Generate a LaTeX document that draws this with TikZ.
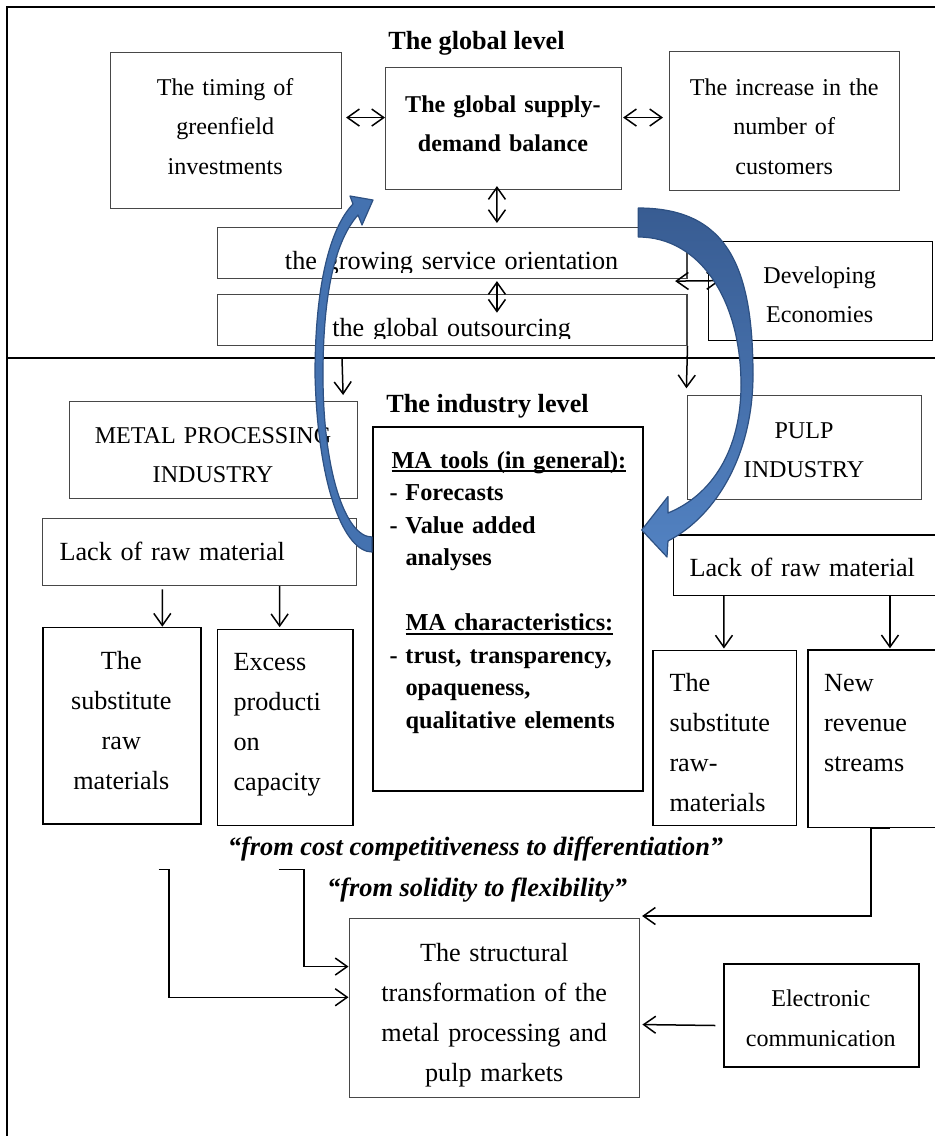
\documentclass[tikz,border=0pt]{standalone}
\usepackage{fontspec}
\setmainfont{Liberation Serif}
\usetikzlibrary{arrows.meta}
\definecolor{bluefill}{RGB}{68,114,176}
\definecolor{blueedge}{RGB}{45,80,130}
\definecolor{bluetop}{RGB}{56,92,146}
\definecolor{bluebottom}{RGB}{82,130,194}
% underline with a fixed depth and weight
\newcommand{\ulined}[1]{\leavevmode\setbox0=\hbox{#1}\rlap{\rule[-3.8pt]{\wd0}{1.8pt}}\box0}
\begin{document}
\begin{tikzpicture}[x=1pt,y=-1pt,
  >={Straight Barb[length=12pt,width=17pt]},
  frame/.style={draw=black, line width=1.5pt},
  thinbox/.style={draw=black!72, line width=1.1pt, inner sep=0pt, anchor=north west},
  blackbox/.style={draw=black, line width=1.3pt, inner sep=0pt, anchor=north west},
  heavybox/.style={draw=black, line width=2pt, inner sep=0pt, anchor=north west},
  sz/.style 2 args={minimum width=#1pt, minimum height=#2pt},
  small/.style={font={\fontsize{24.1}{39.5}\selectfont}},
  smallbf/.style={font={\fontsize{24.1}{39.5}\selectfont\bfseries}},
  large/.style={font={\fontsize{26.2}{40}\selectfont}},
  largebf/.style={font={\fontsize{26.2}{40}\selectfont\bfseries}},
  largebi/.style={font={\fontsize{26.4}{40}\selectfont\bfseries\itshape}},
  listbf/.style={font={\fontsize{24.3}{32.5}\selectfont\bfseries}},
  ctext/.style={inner sep=0pt, anchor=base, text width=#1pt, align=center},
  ltext/.style={inner sep=0pt, anchor=base west, text width=#1pt, align=left},
  label/.style={inner sep=0pt, anchor=base},
  conn/.style={draw=black, line width=1.5pt},
  curvearrow/.style={draw=blueedge, line width=1.2pt, line join=round}
]
\useasboundingbox (0,0) rectangle (935,1136);

% outer frame and level divider
\draw[frame] (7,1145) -- (7,7) -- (945,7);
\draw[frame] (7,358) -- (945,358);

% ---------- global level ----------
\node[label, largebf] (tglobal) at (476.5,49) {The global level};

\node[thinbox, sz={231.5}{156.6}] (A) at (109.5,51.7) {};
\node[thinbox, sz={235.5}{122}] (B) at (385,67.3) {};
\node[thinbox, sz={230.3}{139}] (C) at (669,51) {};
\node[thinbox, sz={469.6}{51}] (D) at (216.8,227.3) {};
\node[thinbox, sz={469.6}{50.7}] (E) at (216.8,294.3) {};
\node[blackbox, sz={224}{99}] (F) at (707.7,241) {};

\node[ctext=300, small] (At) at (225.2,95) {The timing of\\greenfield\\investments};
\node[ctext=300, smallbf] (Bt) at (503,112) {The global supply-\\demand balance};
\node[ctext=300, small] (Ct) at (784.2,95) {The increase in the\\number of\\customers};
\begin{scope}
  \clip (D.north west) rectangle ([yshift=7pt]D.south east);
  \node[ctext=440, large] (Dt) at (451.6,269.5) {the growing service orientation};
\end{scope}
\begin{scope}
  \clip (E.north west) rectangle ([yshift=7.5pt]E.south east);
  \node[ctext=440, large] (Et) at (451.6,336) {the global outsourcing};
\end{scope}
\node[ctext=200, small] (Ft) at (819.7,283.3) {Developing\\Economies};

% ---------- industry level ----------
\node[label, largebf] (tindustry) at (487.5,412) {The industry level};

\node[thinbox, sz={287.4}{97.3}] (G) at (69.3,401) {};
\node[thinbox, sz={313.7}{67.3}] (H) at (42.3,517.7) {};
\node[blackbox, sz={158}{196.6}] (I) at (42.3,626.7) {};
\node[blackbox, sz={135.6}{196.3}] (J) at (216.7,628.7) {};
\node[heavybox, sz={270.6}{364}] (K) at (371.7,426) {};
\node[thinbox, sz={234}{104}] (L) at (686.7,395) {};
\node[blackbox, sz={272.3}{60.4}] (M) at (672.7,534.3) {};
\node[blackbox, sz={143.4}{175}] (N) at (652.3,650) {};
\node[blackbox, sz={137.7}{177.4}] (O) at (807.3,649.3) {};
\node[thinbox, sz={290.3}{179}] (P) at (349,918) {};
\node[heavybox, sz={195}{102.4}] (Q) at (723.3,963.3) {};

\node[ctext=280, small] (Gt) at (213,443.3) {METAL PROCESSING\\INDUSTRY};
\node[ltext=290, large] (Ht) at (59.3,560) {Lack of raw material};
\node[ctext=150, large] (It) at (121.3,669.3) {The\\substitute\\raw\\materials};
\node[ltext=130, large] (Jt) at (233.3,670.7) {Excess\\producti\\on\\capacity};
\node[ltext=250, listbf] (Kt) at (389.3,468.3) {%
  \hspace*{2pt}\ulined{MA tools (in general):}\\
  \makebox[16pt][l]{-}Forecasts\\
  \makebox[16pt][l]{-}Value added\\
  \hspace*{16pt}analyses\\[32.5pt]
  \hspace*{16pt}\ulined{MA characteristics:}\\
  \makebox[16pt][l]{-}trust, transparency,\\
  \hspace*{16pt}opaqueness,\\
  \hspace*{16pt}qualitative elements};
\node[ctext=220, small] (Lt) at (804,438.3) {PULP\\INDUSTRY};
\node[ltext=250, large] (Mt) at (689.3,576) {Lack of raw material};
\node[ltext=125, large] (Nt) at (669.3,691.7) {The\\substitute\\raw-\\materials};
\node[ltext=120, large] (Ot) at (824,691.7) {New\\revenue\\streams};

\node[label, largebi] (q1) at (475.5,855) {“from cost competitiveness to differentiation”};
\node[label, largebi] (q2) at (477,896.5) {“from solidity to flexibility”};

\node[ctext=285, large] (Pt) at (494.2,961) {The structural\\transformation of the\\metal processing and\\pulp markets};
\node[ctext=190, small] (Qt) at (820.8,1006.7) {Electronic\\communication};

% ---------- connectors ----------
\draw[conn,<->] ([shift={(4pt,13pt)}]A.east) -- ([yshift=11.3pt]B.west);
\draw[conn,<->] ([shift={(1.5pt,11.3pt)}]B.east) -- ([shift={(-6pt,3.5pt)}]C.west);
\draw[conn,<->] ([shift={(-6.35pt,4.3pt)}]B.south) -- ([shift={(44.8pt,4.3pt)}]D.north);
\draw[conn,<->] ([shift={(44.8pt,-1.7pt)}]D.south) -- ([shift={(44.8pt,-18.4pt)}]E.north);
\draw[conn,<->] ([shift={(-12.4pt,-1.7pt)}]D.south east) -- ([shift={(12.3pt,10.5pt)}]F.west);

\coordinate (dv) at (342,358);
\draw[conn,->] (dv) -- ([shift={(-14.7pt,6pt)}]G.north east);
\draw[conn,->] (E.south east) -- ([shift={(-0.3pt,6.7pt)}]L.north west);

\draw[conn,->] ([shift={(-37.45pt,-3.3pt)}]H.south) -- ([xshift=40.4pt]I.north);
\draw[conn,->] ([xshift=79.85pt]H.south) -- ([shift={(-5.5pt,1.5pt)}]J.north);
\draw[conn,->] ([xshift=-85.55pt]M.south) -- ([shift={(-0.7pt,1.5pt)}]N.north);
\draw[conn,->] ([xshift=80.45pt]M.south) -- ([shift={(13.15pt,1pt)}]O.north);

\draw[conn,->] ([xshift=13.15pt]O.south) -- ([xshift=-5.75pt]O.south) |- ([shift={(1.7pt,2pt)}]P.north east);
\draw[conn,->] ([shift={(-8pt,-10pt)}]Q.west) -- ([shift={(2pt,-16.5pt)}]P.east);

\coordinate (e1) at (158.7,869.3);
\coordinate (e2) at (278.6,869.3);
\draw[conn,->] (e1) -- ++(10.2,0) |- ([shift={(-0.5pt,10.8pt)}]P.west);
\draw[conn,->] (e2) -- ++(25.4,0) |- ([shift={(-0.5pt,41.5pt)}]P.west);

% ---------- curved block arrows ----------
\path[curvearrow, fill=bluefill]
  (372,552) .. controls (345,552) and (318,490) .. (315,375)
  .. controls (315,285) and (330,228) .. (353,204)
  -- (350,196) -- (373,200) -- (362,225) -- (358,215)
  .. controls (336,240) and (323,290) .. (323,375)
  .. controls (323,470) and (345,537) .. (372,537) -- cycle;

\path[curvearrow, top color=bluetop, bottom color=bluebottom]
  (638.3,208) .. controls (728,208) and (753,268) .. (753,375)
  .. controls (753,452) and (718,515) .. (668,541)
  -- (667,557) -- (641.7,530) -- (668,496.5) -- (668,513)
  .. controls (712,495) and (741,450) .. (741,385)
  .. controls (741,300) and (700,237) .. (638.3,237) -- cycle;
\end{tikzpicture}
\end{document}
